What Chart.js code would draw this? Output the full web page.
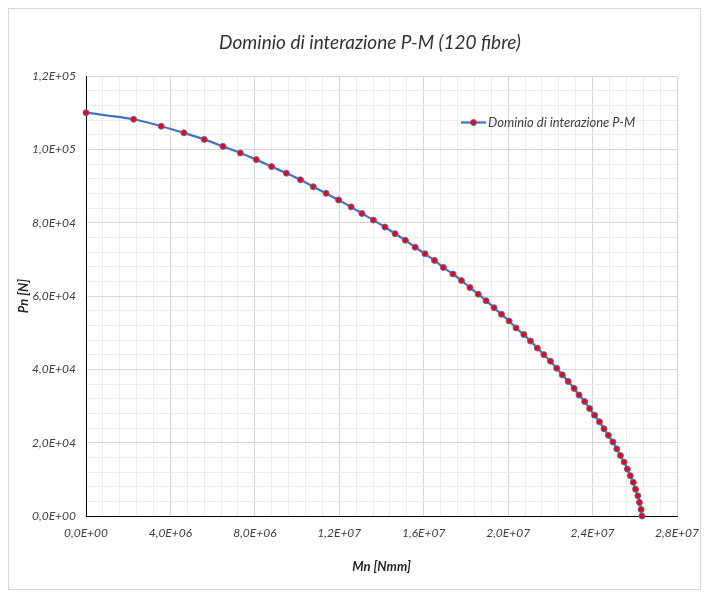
<!DOCTYPE html>
<html>
<head>
<meta charset="utf-8">
<script src="https://cdn.jsdelivr.net/npm/chart.js@4.4.0/dist/chart.umd.min.js"></script>
<style>
  html, body { margin: 0; padding: 0; background: #ffffff; }
  canvas { display: block; }
</style>
</head>
<body>
<canvas id="chart" width="709" height="597"></canvas>
<script>
// Text
const chartTitle = 'Dominio di interazione P-M (120 fibre)';
const seriesName = 'Dominio di interazione P-M';
const xAxisTitle = 'Mn [Nmm]';
const yAxisTitle = 'Pn [N]';

// Bending moment Mn [Nmm]
const momentMn = [
  0, 2255000, 3562000, 4636000, 5603000, 6490000, 7312000, 8068000, 8792000, 9492000,
  10160000, 10767000, 11374000, 11967000, 12560000, 13073000, 13615000, 14161000, 14642000, 15128000,
  15594000, 16061000, 16510000, 16930000, 17383000, 17789000, 18190000, 18583000, 18956000, 19330000,
  19685000, 20044000, 20371000, 20744000, 21057000, 21384000, 21692000, 22005000, 22299000, 22565000,
  22845000, 23126000, 23359000, 23625000, 23859000, 24092000, 24325000, 24540000, 24746000, 24960000,
  25147000, 25320000, 25493000, 25647000, 25787000, 25927000, 26034000, 26146000, 26221000, 26300000,
  26338000
];

// Axial force Pn [N]
const axialPn = [
  110000, 108200, 106300, 104500, 102700, 100800, 99000, 97200, 95300, 93500,
  91700, 89800, 88000, 86200, 84300, 82500, 80700, 78800, 77000, 75200,
  73300, 71500, 69700, 67800, 66000, 64200, 62300, 60500, 58700, 56800,
  55000, 53200, 51300, 49500, 47700, 45800, 44000, 42200, 40300, 38500,
  36700, 34800, 33000, 31200, 29300, 27500, 25700, 23800, 22000, 20200,
  18300, 16500, 14700, 12800, 11000, 9200, 7300, 5500, 3700, 1800,
  0
];

// Axis ranges: minor grid step, labelled every fifth step
const xMin = 0, xMax = 2.8e7, xMinorStep = 8e5;
const yMin = 0, yMax = 1.2e5, yMinorStep = 4e3;
const majorEvery = 5;

const FONT = 'Lato, "Open Sans", "Liberation Sans", sans-serif';
const LINE_BLUE = '#4472C4';
const MARK_RED = '#FF0000';

// "1,2E+05" style scientific labels (comma decimal separator)
function sciLabel(v) {
  const [m, e] = Number(v).toExponential(1).split('e');
  const exp = parseInt(e, 10);
  const sign = exp < 0 ? '-' : '+';
  return m.replace('.', ',') + 'E' + sign + String(Math.abs(exp)).padStart(2, '0');
}
function isMajor(v, step) {
  return Math.round(v / step) % majorEvery === 0;
}

const points = momentMn.map((m, i) => ({ x: m, y: axialPn[i] }));

// Chart frame, title and in-plot legend
const decorations = {
  id: 'decorations',
  beforeDraw(chart) {
    const { ctx } = chart;
    ctx.save();
    ctx.fillStyle = '#ffffff';
    ctx.fillRect(0, 0, chart.width, chart.height);
    ctx.strokeStyle = '#D9D9D9';
    ctx.lineWidth = 1;
    ctx.strokeRect(8.5, 8.5, 692, 581);
    ctx.restore();
  },
  afterDraw(chart) {
    const { ctx, chartArea } = chart;
    const ds = chart.data.datasets[0];
    ctx.save();
    // title
    ctx.fillStyle = '#333333';
    ctx.font = 'italic 19px ' + FONT;
    ctx.textAlign = 'center';
    ctx.textBaseline = 'middle';
    ctx.fillText(chartTitle, 370, 43);
    // legend entry
    const lx = chartArea.left + 375, ly = chartArea.top + 46.5;
    ctx.strokeStyle = ds.borderColor;
    ctx.lineWidth = ds.borderWidth;
    ctx.beginPath();
    ctx.moveTo(lx, ly);
    ctx.lineTo(lx + 25, ly);
    ctx.stroke();
    ctx.beginPath();
    ctx.arc(lx + 12.5, ly, ds.pointRadius, 0, Math.PI * 2);
    ctx.fillStyle = ds.pointBackgroundColor;
    ctx.fill();
    ctx.lineWidth = ds.pointBorderWidth;
    ctx.strokeStyle = ds.pointBorderColor;
    ctx.stroke();
    ctx.fillStyle = '#404040';
    ctx.font = 'italic 13px ' + FONT;
    ctx.textAlign = 'left';
    ctx.fillText(ds.label, lx + 27, ly);
    ctx.restore();
  }
};

new Chart(document.getElementById('chart'), {
  type: 'scatter',
  data: {
    datasets: [{
      label: seriesName,
      data: points,
      showLine: true,
      clip: false,
      tension: 0.3,
      borderColor: LINE_BLUE,
      borderWidth: 2.25,
      pointRadius: 3,
      pointHoverRadius: 3,
      pointBorderWidth: 1,
      pointBackgroundColor: MARK_RED,
      pointBorderColor: LINE_BLUE
    }]
  },
  options: {
    responsive: false,
    animation: false,
    devicePixelRatio: 1,
    layout: { padding: { top: 76, right: 23, bottom: 0, left: 0 } },
    plugins: {
      legend: { display: false },
      title: { display: false },
      tooltip: { enabled: false }
    },
    scales: {
      x: {
        type: 'linear',
        min: xMin,
        max: xMax,
        afterFit(scale) { scale.height = 81; },
        border: { display: true, color: '#000000', width: 1 },
        grid: {
          drawTicks: false,
          color: c => isMajor(c.tick.value, xMinorStep) ? '#D6D6D6' : '#EDEDED',
          lineWidth: 1
        },
        ticks: {
          stepSize: xMinorStep,
          maxTicksLimit: 1000,
          autoSkip: false,
          maxRotation: 0,
          padding: 10,
          color: '#404040',
          font: { family: FONT, size: 12, style: 'italic' },
          callback: v => isMajor(v, xMinorStep) ? sciLabel(v) : ''
        },
        title: {
          display: true,
          text: xAxisTitle,
          color: '#262626',
          font: { family: FONT, size: 13, style: 'italic', weight: 'bold' },
          padding: { top: 0, bottom: 22 }
        }
      },
      y: {
        type: 'linear',
        min: yMin,
        max: yMax,
        afterFit(scale) { scale.width = 86; },
        border: { display: true, color: '#000000', width: 1 },
        grid: {
          drawTicks: false,
          color: c => isMajor(c.tick.value, yMinorStep) ? '#D6D6D6' : '#EDEDED',
          lineWidth: 1
        },
        ticks: {
          stepSize: yMinorStep,
          maxTicksLimit: 1000,
          autoSkip: false,
          padding: 10,
          color: '#404040',
          font: { family: FONT, size: 12, style: 'italic' },
          callback: v => isMajor(v, yMinorStep) ? sciLabel(v) : ''
        },
        title: {
          display: true,
          text: yAxisTitle,
          color: '#262626',
          font: { family: FONT, size: 13, style: 'italic', weight: 'bold' },
          padding: { top: 16, bottom: 0 }
        }
      }
    }
  },
  plugins: [decorations]
});
</script>
</body>
</html>
